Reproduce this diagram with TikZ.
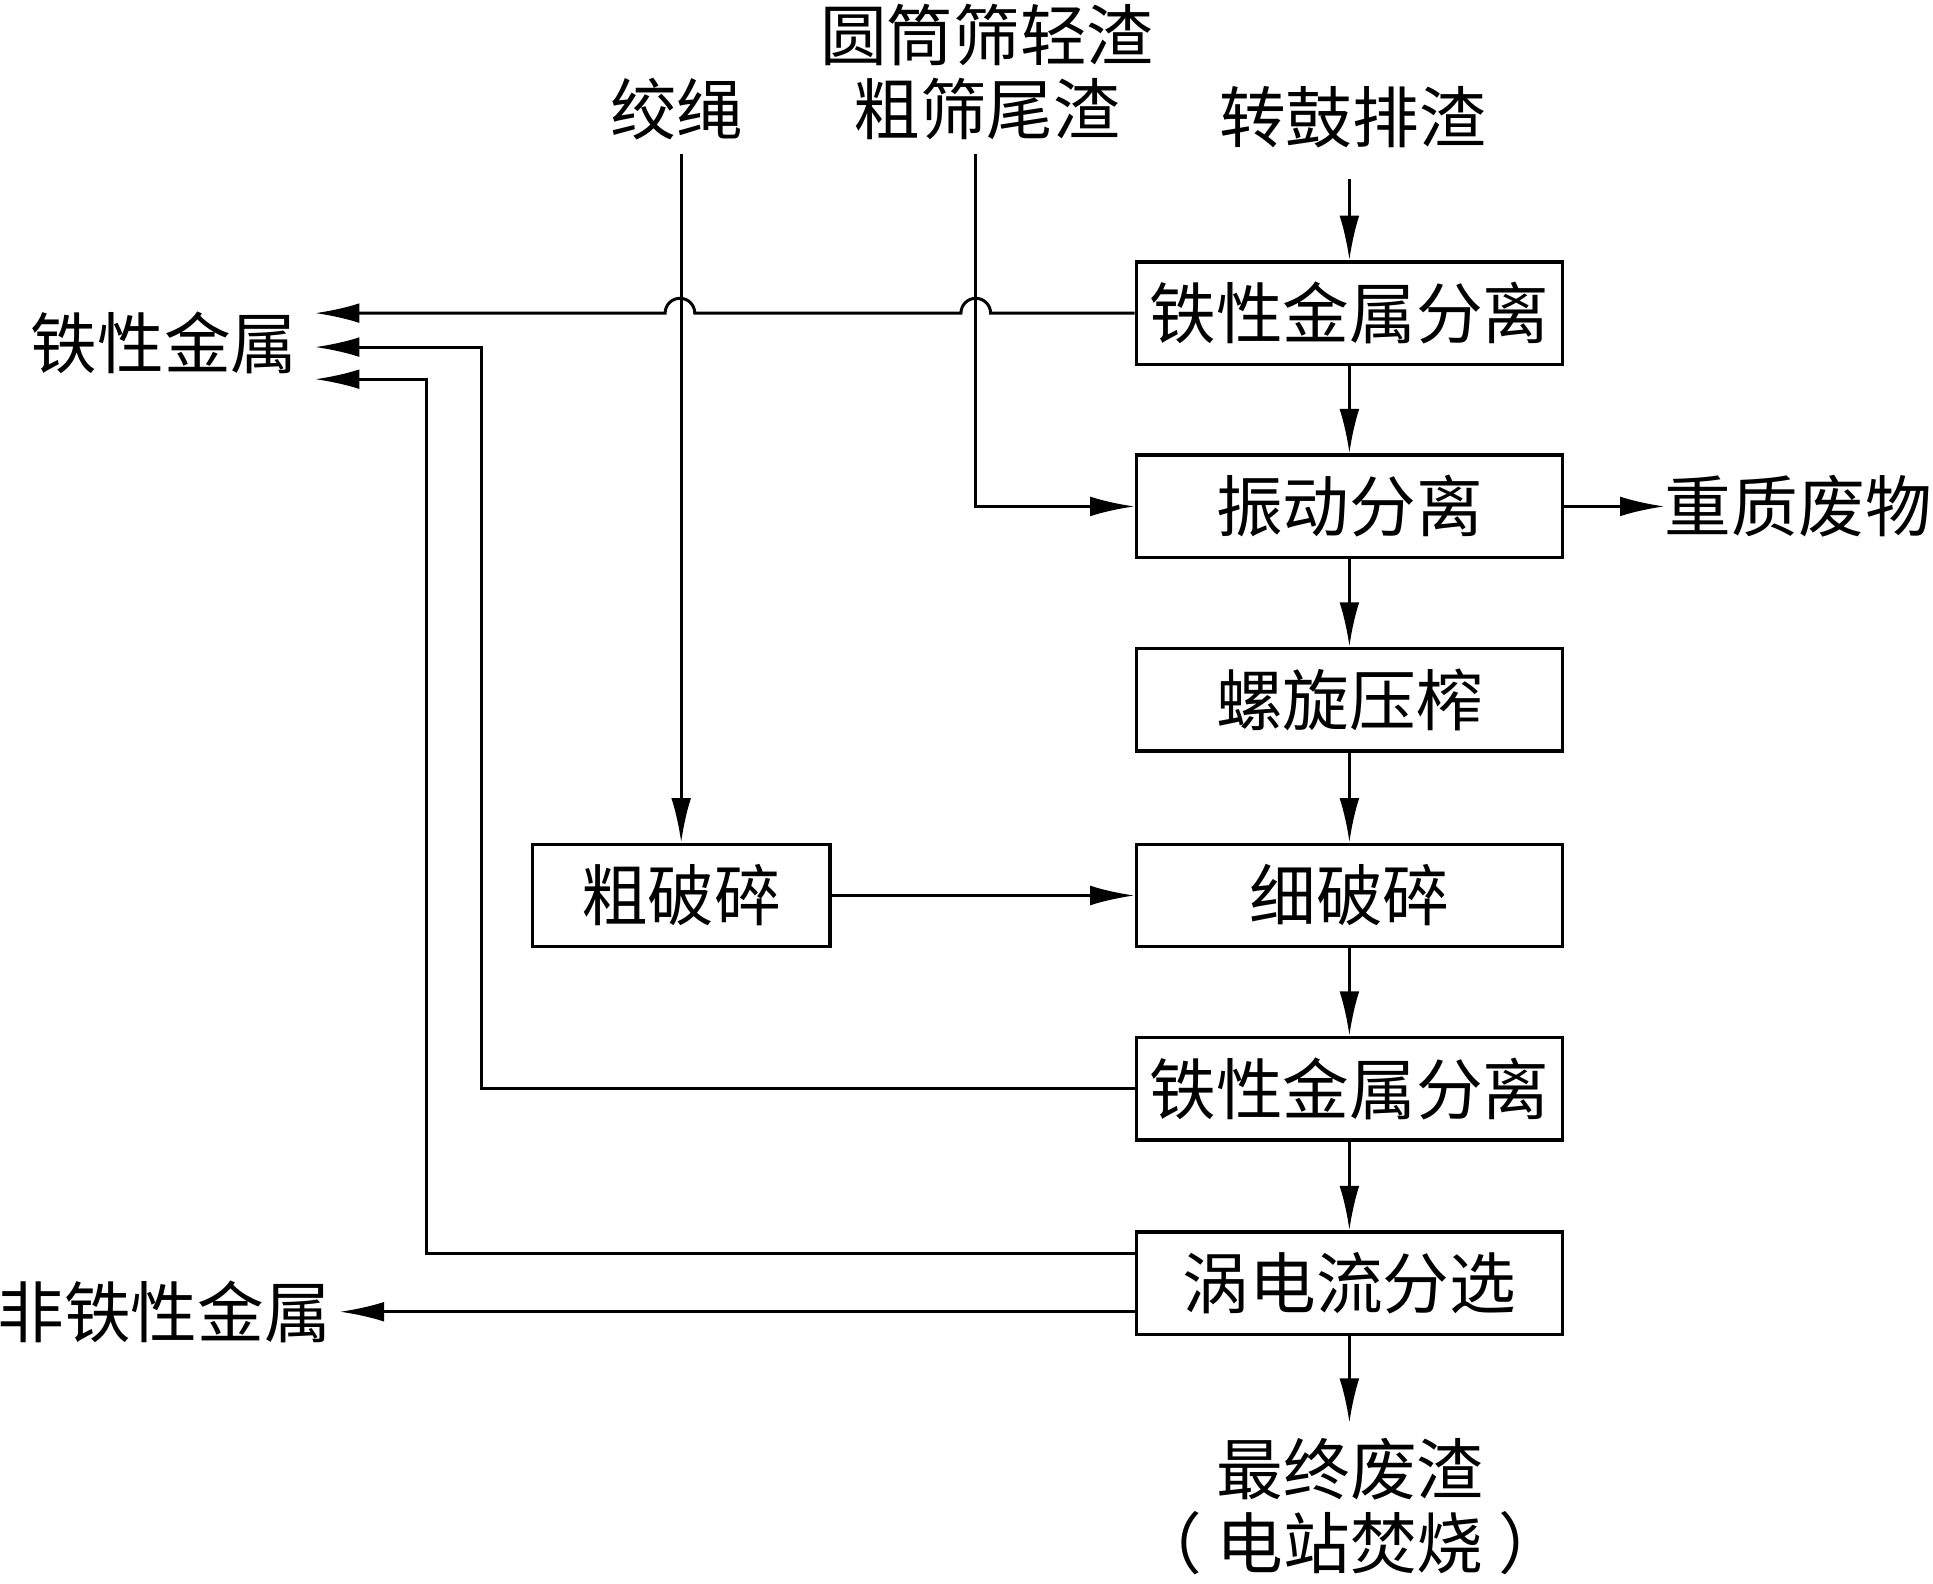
\documentclass[tikz,border=0pt]{standalone}
\usepackage{fontspec}
\setmainfont{Noto Sans CJK SC}
\usetikzlibrary{arrows.meta}
\begin{document}
\begin{tikzpicture}[x=0.5pt,y=-0.5pt,
  box/.style={draw, line width=1.4pt, minimum width=172.5pt, minimum height=41.5pt, inner sep=0pt, font=\fontsize{27}{30}\selectfont},
  lbl/.style={font=\fontsize{27}{30}\selectfont, inner sep=0pt, align=center},
  ln/.style={line width=1.2pt},
  flow/.style={line width=1.2pt, -{Latex[length=18pt,width=8pt]}}]
\useasboundingbox (0,0) rectangle (1565,1282);
% boxes
\node[box] (b1) at (1092.5,253.5) {铁性金属分离};
\node[box] (b2) at (1092.5,410) {振动分离};
\node[box] (b3) at (1092.5,566.5) {螺旋压榨};
\node[box] (b4) at (1092.5,725) {细破碎};
\node[box] (b5) at (1092.5,881.5) {铁性金属分离};
\node[box] (b6) at (1092.5,1039) {涡电流分选};
\node[box, minimum width=120.5pt] (cp) at (551.5,725) {粗破碎};
% labels
\node[lbl] (zg) at (1095,95) {转鼓排渣};
\node[lbl] (js) at (548,88) {绞绳};
\node[lbl] (ys) at (799,58) {圆筒筛轻渣\\粗筛尾渣};
\node[lbl] (fe) at (133,278) {铁性金属};
\node[lbl] (nfe) at (133,1062) {非铁性金属};
\node[lbl] (hw) at (1456,410) {重质废物};
\node[lbl] (fin) at (1093,1220) {最终废渣\\（\hspace{6pt}电站焚烧\hspace{6pt}）};
% coordinates
\coordinate (zgs) at (1092.5,145);
\coordinate (jss) at (551.5,125);
\coordinate (yss) at (790,125);
\coordinate (t1) at (255,253.5);
\coordinate (t2) at (255,281);
\coordinate (t3) at (255,307);
\coordinate (t4) at (275,1062);
\coordinate (e6a) at (920,1015);
\coordinate (e6b) at (920,1062);
\coordinate (fint) at (1092.5,1152);
% vertical chain
\draw[flow] (zgs) -- (b1.north);
\draw[flow] (b1.south) -- (b2.north);
\draw[flow] (b2.south) -- (b3.north);
\draw[flow] (b3.south) -- (b4.north);
\draw[flow] (b4.south) -- (b5.north);
\draw[flow] (b5.south) -- (b6.north);
\draw[flow] (b6.south) -- (fint);
% side flows
\draw[flow] (jss) -- (cp.north);
\draw[flow] (yss) |- (b2.west);
\draw[flow] (cp.east) -- (b4.west);
\draw[flow] (b2.east) -- (hw.west);
\draw[flow] (b1.west) -- (802,253.5) arc (0:-180:12) -- (562.5,253.5) arc (0:-180:12) -- (t1);
\draw[flow] (b5.west) -| (390,281) -- (t2);
\draw[flow] (e6a) -| (345,307) -- (t3);
\draw[flow] (e6b) -- (t4);
\end{tikzpicture}
\end{document}
